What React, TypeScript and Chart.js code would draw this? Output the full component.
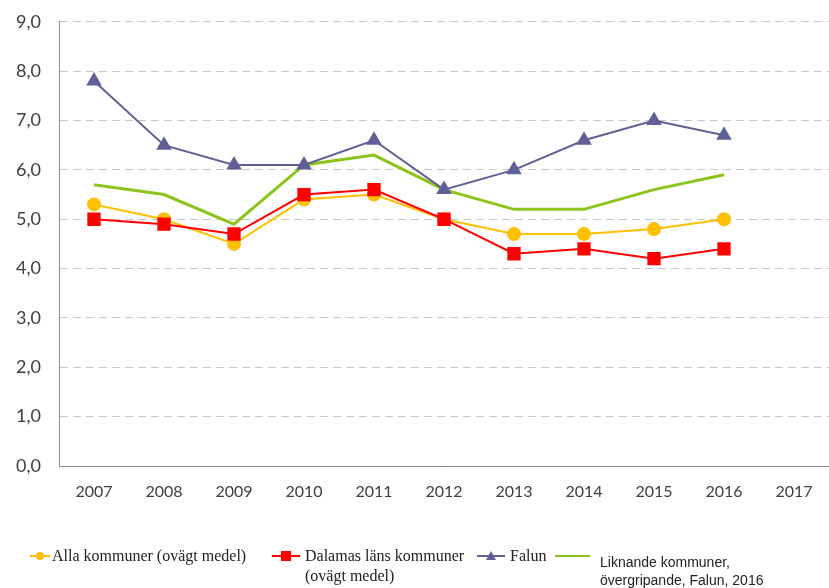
import React, { useEffect, useRef } from "react";
import { Chart, registerables } from "chart.js";

Chart.register(...registerables);

const years = ["2007", "2008", "2009", "2010", "2011", "2012", "2013", "2014", "2015", "2016", "2017"];
const allaKommuner = [5.3, 5.0, 4.5, 5.4, 5.5, 5.0, 4.7, 4.7, 4.8, 5.0, null];
const dalamasLans = [5.0, 4.9, 4.7, 5.5, 5.6, 5.0, 4.3, 4.4, 4.2, 4.4, null];
const falun = [7.8, 6.5, 6.1, 6.1, 6.6, 5.6, 6.0, 6.6, 7.0, 6.7, null];
const liknande = [5.7, 5.5, 4.9, 6.1, 6.3, 5.6, 5.2, 5.2, 5.6, 5.9, null];

const YELLOW = "#ffc000";
const RED = "#ff0000";
const PURPLE = "#5f6096";
const GREEN = "#8cc41c";

export default function App() {
  const ref = useRef<HTMLCanvasElement | null>(null);

  useEffect(() => {
    document.body.style.margin = "0";
    const ctx = ref.current!;
    const chart = new Chart(ctx, {
      type: "line",
      data: {
        labels: years,
        datasets: [
          {
            label: "Dalamas läns kommuner (ovägt medel)",
            data: dalamasLans,
            borderColor: RED,
            backgroundColor: RED,
            borderWidth: 2,
            pointStyle: "rect",
            pointRadius: 8,
            order: 0,
          },
          {
            label: "Alla kommuner (ovägt medel)",
            data: allaKommuner,
            borderColor: YELLOW,
            backgroundColor: YELLOW,
            borderWidth: 2,
            pointStyle: "circle",
            pointRadius: 6,
            order: 1,
          },
          {
            label: "Falun",
            data: falun,
            borderColor: PURPLE,
            backgroundColor: PURPLE,
            borderWidth: 2,
            pointStyle: "triangle",
            pointRadius: 7,
            order: 2,
          },
          {
            label: "Liknande kommuner, övergripande, Falun, 2016",
            data: liknande,
            borderColor: GREEN,
            backgroundColor: GREEN,
            borderWidth: 3,
            pointRadius: 0,
            order: 3,
          },
        ],
      },
      options: {
        animation: false,
        responsive: false,
        maintainAspectRatio: false,
        layout: { autoPadding: false, padding: { top: 14, right: 0, left: 0, bottom: 0 } },
        plugins: { legend: { display: false }, tooltip: { enabled: false } },
        scales: {
          x: {
            offset: true,
            grid: { display: false, drawTicks: false },
            border: { display: true, color: "#8c8c8c", width: 1 },
            ticks: {
              color: "#404040",
              font: { family: "Lato", size: 16 },
              padding: 16,
              maxRotation: 0,
            },
            afterFit: (s: any) => {
              s.height = 44;
            },
          },
          y: {
            min: 0,
            max: 9,
            grid: {
              color: "#c8c8c8",
              drawTicks: false,
            },
            border: { display: true, color: "#8c8c8c", width: 1, dash: [8, 5] },
            ticks: {
              stepSize: 1,
              color: "#404040",
              font: { family: "Lato", size: 18 },
              padding: 18,
              callback: (v: any) => Number(v).toFixed(1).replace(".", ","),
            },
            afterFit: (s: any) => {
              s.width = 59;
            },
          },
        },
      },
    });
    return () => chart.destroy();
  }, []);

  const serif: React.CSSProperties = {
    position: "absolute",
    fontFamily: "'Liberation Serif', serif",
    fontSize: 16,
    color: "#222",
    whiteSpace: "nowrap",
    lineHeight: "20px",
  };
  const sans: React.CSSProperties = {
    position: "absolute",
    fontFamily: "'Liberation Sans', sans-serif",
    fontSize: 14,
    color: "#222",
    whiteSpace: "nowrap",
    lineHeight: "18px",
  };

  return (
    <div style={{ position: "relative", width: 829, height: 588, background: "#fff", overflow: "hidden" }}>
      <canvas ref={ref} width={829} height={517} style={{ position: "absolute", left: 0, top: -7 }} />
      <svg width={829} height={80} style={{ position: "absolute", left: 0, top: 508 }}>
        <line x1={30} y1={48} x2={50} y2={48} stroke={YELLOW} strokeWidth={2} />
        <circle cx={40} cy={48} r={4} fill={YELLOW} />
        <line x1={272} y1={48} x2={300} y2={48} stroke={RED} strokeWidth={2} />
        <rect x={281} y={43} width={10} height={10} fill={RED} />
        <line x1={477} y1={48} x2={505} y2={48} stroke={PURPLE} strokeWidth={2} />
        <polygon points="491,43 496,52 486,52" fill={PURPLE} />
        <line x1={555} y1={48} x2={590} y2={48} stroke={GREEN} strokeWidth={2} />
      </svg>
      <div style={{ ...serif, left: 52, top: 546 }}>Alla kommuner (ovägt medel)</div>
      <div style={{ ...serif, left: 305, top: 546 }}>
        Dalamas läns kommuner
        <br />
        (ovägt medel)
      </div>
      <div style={{ ...serif, left: 510, top: 546 }}>Falun</div>
      <div style={{ ...sans, left: 600, top: 553 }}>
        Liknande kommuner,
        <br />
        övergripande, Falun, 2016
      </div>
    </div>
  );
}
